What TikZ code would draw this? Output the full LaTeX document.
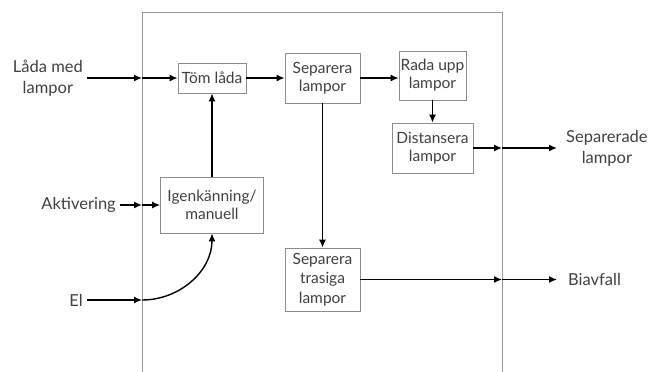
\documentclass[tikz,border=0pt]{standalone}
\usepackage{fontspec}
\setmainfont{Lato}
\usetikzlibrary{arrows.meta}
\tikzstyle{line} = [draw, -{Latex[length=8pt, width=7pt]}, line width=1.4pt]
\tikzstyle{proc} = [rectangle, draw=black!45, line width=0.7pt, text=black!75, align=center, node distance=110pt, font=\fontsize{15.5}{18}\selectfont]
\tikzstyle{ext} = [text=black!75, align=center, inner sep=4pt, font=\fontsize{16.5}{21}\selectfont]
\tikzstyle{frame} = [draw=black!40, line width=0.9pt]

\begin{document}
\begin{tikzpicture}[x=1pt, y=-1pt]
	\useasboundingbox (0,0) rectangle (654,372);
	\draw [frame] (142,372) -- (142,12) -- (502,12) -- (502,372);
	
	\node [proc, minimum width=68pt, minimum height=30pt, inner xsep=1pt] (tom) at (212,78) {Töm låda};
	\node [proc, right of=tom, node distance=110.5pt, minimum width=75pt, minimum height=50pt] (sep) {Separera\\lampor};
	\node [proc, right of=sep, node distance=110pt, yshift=2.5pt, minimum width=67pt, minimum height=49pt, inner xsep=1pt] (rada) {Rada upp\\lampor};
	\node [proc, below of=rada, node distance=72.5pt, minimum width=81pt, minimum height=50pt] (dist) {Distansera\\lampor};
	\node [proc, below of=tom, node distance=127pt, minimum width=103pt, minimum height=56pt] (igen) {Igenkänning/\\manuell};
	\node [proc, below of=sep, node distance=201.5pt, minimum width=75pt, minimum height=63pt, font=\fontsize{15.5}{19.5}\selectfont] (trasig) {Separera\\trasiga\\lampor};
	
	\node [ext, anchor=east] (lada) at (87,78) {Låda med\\lampor};
	\node [ext, anchor=east] (aktiv) at (120,205) {Aktivering};
	\node [ext, anchor=east] (el) at (87,300) {El};
	\node [ext, anchor=west, inner xsep=9pt] (separ) at (557,148) {Separerade\\lampor};
	\node [ext, anchor=west, inner xsep=11pt] (biav) at (557,279.5) {Biavfall};
	
	% points where the arrows cross the frame
	\coordinate (fLada) at (142,78);
	\coordinate (fAktiv) at (142,205);
	\coordinate (fEl) at (142,300);
	\coordinate (fDist) at (502,148);
	\coordinate (fTrasig) at (502,279.5);
	
	\path [line] (lada.east) -- (fLada);
	\path [line] (fLada) -- (tom.west);
	\path [line] (aktiv.east) -- (fAktiv);
	\path [line] (fAktiv) -- (igen.west);
	\path [line] (el.east) -- (fEl);
	\path [line] (fEl) to [out=0, in=-90] (igen.south);
	\path [line] (igen.north) -- (tom.south);
	\path [line] (tom.east) -- (sep.west);
	\path [line] (sep.east) -- (sep.east -| rada.west);
	\path [line] (rada.south) -- (dist.north);
	\path [line] (dist.east) -- (fDist);
	\path [line] (fDist) -- (separ.west);
	\path [line] (sep.south) -- (trasig.north);
	\path [line] (trasig.east) -- (fTrasig);
	\path [line] (fTrasig) -- (biav.west);
\end{tikzpicture}
\end{document}
